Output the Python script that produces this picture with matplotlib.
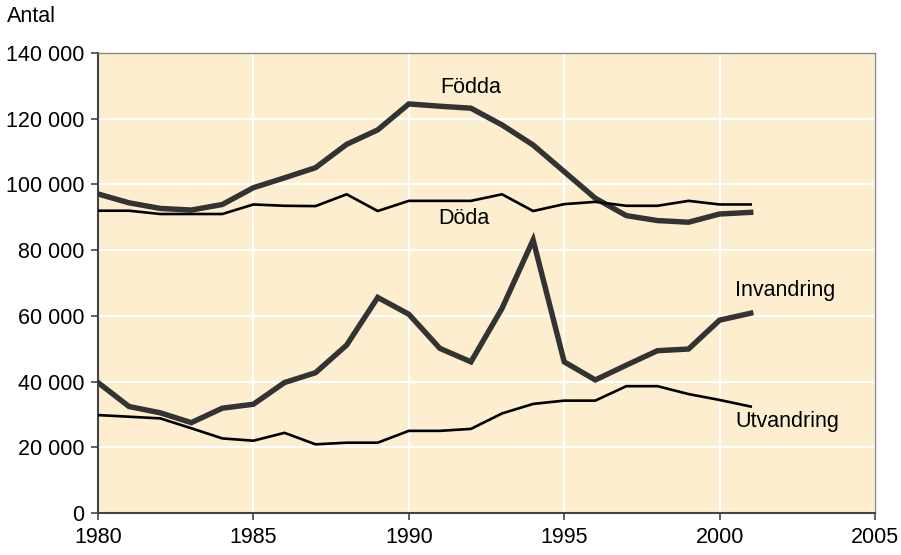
import matplotlib
matplotlib.use('Agg')
from matplotlib import pyplot as plt
from matplotlib.ticker import FuncFormatter

plt.rcParams['font.family'] = ['Liberation Sans', 'DejaVu Sans']

years = list(range(1980, 2002))
fodda = [97.1, 94.4, 92.7, 92.2, 93.9, 99.0, 102.0, 105.1, 112.2, 116.6, 124.5,
         123.8, 123.2, 118.1, 112.0, 103.9, 95.8, 90.5, 89.0, 88.5, 91.0, 91.5]
doda = [92.0, 92.0, 91.0, 91.0, 91.0, 93.9, 93.5, 93.4, 97.0, 91.9, 95.0,
        95.0, 95.0, 97.0, 91.9, 94.0, 94.7, 93.5, 93.5, 95.0, 93.9, 93.9]
invandring = [39.7, 32.4, 30.5, 27.5, 31.9, 33.1, 39.7, 42.7, 51.1, 65.6, 60.5,
              50.1, 46.0, 62.3, 83.1, 46.0, 40.5, 45.0, 49.4, 49.9, 58.7, 60.8]
utvandring = [29.8, 29.3, 28.8, 25.8, 22.7, 22.0, 24.4, 20.9, 21.4, 21.4, 25.0,
              25.0, 25.6, 30.3, 33.2, 34.2, 34.2, 38.6, 38.6, 36.2, 34.4, 32.4]

fodda = [v * 1000 for v in fodda]
doda = [v * 1000 for v in doda]
invandring = [v * 1000 for v in invandring]
utvandring = [v * 1000 for v in utvandring]

fig = plt.figure(figsize=(9.01, 5.55), dpi=100)
ax = fig.add_axes([98/901, 1 - 513/555, 777/901, 460/555])
ax.set_facecolor('#FCEECE')

ax.plot(years, fodda, color='#333333', lw=3.9, solid_joinstyle='miter', zorder=3)
ax.plot(years, doda, color='black', lw=1.9, zorder=3)
ax.plot(years, invandring, color='#333333', lw=3.9, solid_joinstyle='miter', zorder=3)
ax.plot(years, utvandring, color='black', lw=1.9, zorder=3)

ax.set_xlim(1980, 2005)
ax.set_ylim(0, 140000)
ax.set_xticks(range(1980, 2006, 5))
ax.set_yticks(range(0, 140001, 20000))
ax.yaxis.set_major_formatter(FuncFormatter(lambda v, p: f'{int(v):,}'.replace(',', ' ')))
ax.grid(True, color='white', lw=1.5, zorder=1)
ax.set_axisbelow(True)

for s in ['top', 'right']:
    ax.spines[s].set_color('#888888')
    ax.spines[s].set_linewidth(1.0)
for s in ['left', 'bottom']:
    ax.spines[s].set_color('#444444')
    ax.spines[s].set_linewidth(1.5)
ax.tick_params(direction='out', length=5, width=1.2, color='#444444',
               labelsize=15.5, pad=5)

ax.text(1991.0, 129600, 'Födda', fontsize=15.5, va='center')
ax.text(1990.95, 89500, 'Döda', fontsize=15.5, va='center')
ax.text(2000.5, 67600, 'Invandring', fontsize=15.5, va='center')
ax.text(2000.5, 28000, 'Utvandring', fontsize=15.5, va='center')
fig.text(7/901, 1 - 17/555, 'Antal', fontsize=15.5, va='center')

fig.savefig('out.png', dpi=100)
